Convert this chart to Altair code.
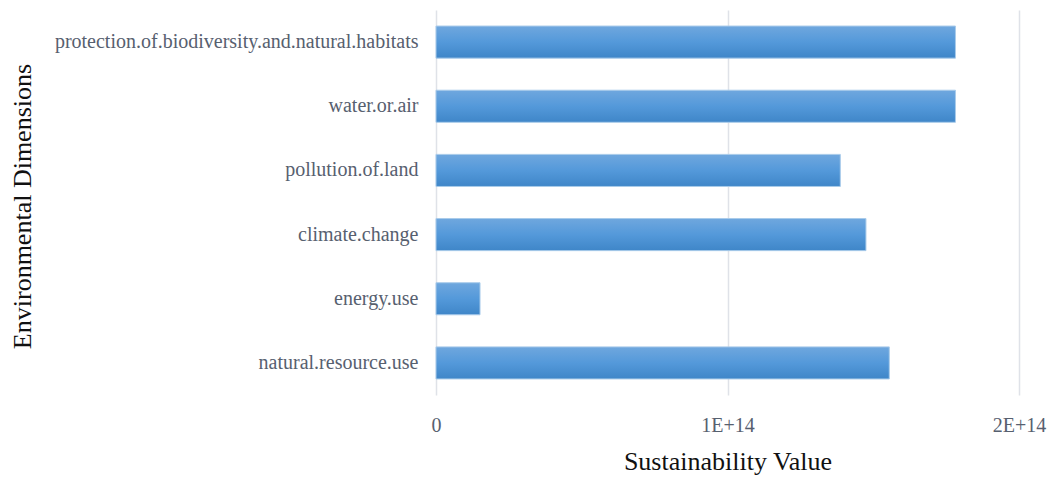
import altair as alt
import pandas as pd

# Environmental dimensions, listed top to bottom
dimensions = [
    "protection.of.biodiversity.and.natural.habitats",
    "water.or.air",
    "pollution.of.land",
    "climate.change",
    "energy.use",
    "natural.resource.use",
]
# Sustainability value per dimension
values = [1.782e14, 1.782e14, 1.387e14, 1.475e14, 0.151e14, 1.555e14]

# Axis tick positions
x_ticks = [0, 1e14, 2e14]

df = pd.DataFrame({"dimension": dimensions, "value": values})

font = "Liberation Serif"
label_color = "#57606f"

bar_fill = alt.Gradient(
    gradient="linear",
    stops=[
        alt.GradientStop(color="#6fa7de", offset=0),
        alt.GradientStop(color="#5499da", offset=0.5),
        alt.GradientStop(color="#3f86c8", offset=1),
    ],
    x1=0, x2=0, y1=0, y2=1,
)

chart = (
    alt.Chart(df)
    .mark_bar(color=bar_fill, stroke="#a9cbea", strokeWidth=1)
    .encode(
        x=alt.X(
            "value:Q",
            scale=alt.Scale(domain=[0, 2e14], nice=False, zero=True),
            axis=alt.Axis(
                values=x_ticks,
                title="Sustainability Value",
                labelExpr="datum.value == 0 ? '0' : format(datum.value / 1e14, 'd') + 'E+14'",
                grid=True,
                gridColor="#dfe2e8",
                gridWidth=1.5,
                domain=False,
                ticks=False,
                labelFont=font,
                labelFontSize=20,
                labelColor=label_color,
                labelPadding=20,
                labelFlush=False,
                labelOverlap=False,
                labelBound=False,
                titleFont=font,
                titleFontSize=26,
                titleFontWeight="normal",
                titleColor="#111111",
                titlePadding=13,
            ),
        ),
        y=alt.Y(
            "dimension:N",
            sort=dimensions,
            scale=alt.Scale(paddingInner=0.5, paddingOuter=0.25),
            axis=alt.Axis(
                title="Environmental Dimensions",
                grid=False,
                domain=False,
                ticks=False,
                labelFont=font,
                labelFontSize=20,
                labelColor=label_color,
                labelPadding=18,
                labelLimit=600,
                titleFont=font,
                titleFontSize=26,
                titleFontWeight="normal",
                titleColor="#111111",
                titleX=-414,
                titleY=196,
                titleAngle=270,
                titleAlign="center",
                titleBaseline="middle",
            ),
        ),
    )
    .properties(
        width=583,
        height=385,
        autosize="none",
        background="white",
        padding={"left": 436, "top": 10, "right": 32, "bottom": 82},
    )
    .configure_view(stroke=None, strokeWidth=0)
)

chart.save("out.html", embed_options={"renderer": "svg", "actions": False})
